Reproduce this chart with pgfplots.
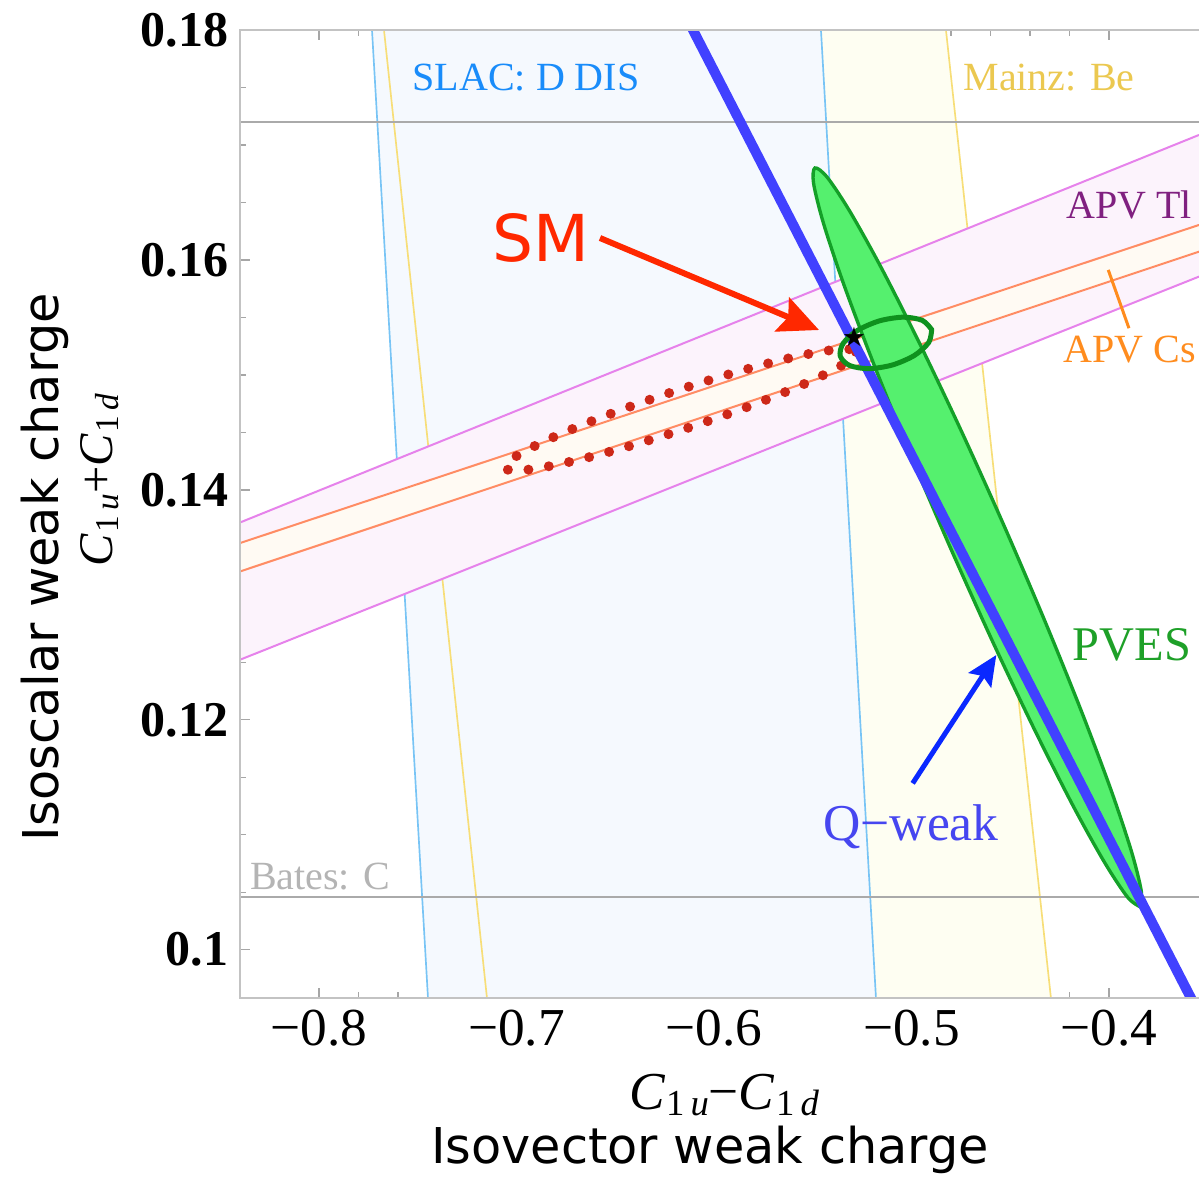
\documentclass[border=0pt]{standalone}
\usepackage{fontspec}
\setmainfont{Liberation Serif}
\newfontfamily\comic{DejaVu Sans}
\usepackage{pgfplots}
\pgfplotsset{compat=1.18}
\usetikzlibrary{arrows.meta}
\definecolor{slacfill}{RGB}{245,249,254}
\definecolor{slacline}{RGB}{120,196,245}
\definecolor{slactext}{RGB}{25,140,250}
\definecolor{mainzfill}{RGB}{254,254,242}
\definecolor{mainzline}{RGB}{247,222,120}
\definecolor{mainztext}{RGB}{235,200,80}
\definecolor{tlfill}{RGB}{252,243,252}
\definecolor{tlline}{RGB}{230,130,235}
\definecolor{tltext}{RGB}{128,32,128}
\definecolor{csfill}{RGB}{255,250,243}
\definecolor{csline}{RGB}{255,140,100}
\definecolor{cstext}{RGB}{255,140,30}
\definecolor{pvesfill}{RGB}{85,240,110}
\definecolor{pvesline}{RGB}{20,160,40}
\definecolor{smallell}{RGB}{15,145,30}
\definecolor{pvestext}{RGB}{30,160,40}
\definecolor{qweak}{RGB}{65,65,255}
\definecolor{qtext}{RGB}{70,70,240}
\definecolor{qarrow}{RGB}{10,40,255}
\definecolor{reddot}{RGB}{205,40,25}
\definecolor{smred}{RGB}{255,40,0}
\definecolor{batesline}{RGB}{170,170,170}
\definecolor{batestext}{RGB}{180,180,180}
\definecolor{framegray}{RGB}{195,195,195}
\newcommand{\Csub}[2]{\textit{C}\kern0.3pt{\fontsize{#2}{#2}\selectfont\raisebox{-0.4ex}{1\,\textit{#1}}}}
\begin{document}
\begin{tikzpicture}
\path[use as bounding box] (-72pt,-54.9pt) rectangle (287.7pt,299.4pt);
\begin{axis}[at={(0,0)}, anchor=south west, scale only axis,
  width=287.7pt, height=290.4pt,
  xmin=-0.84, xmax=-0.3544, ymin=0.0958, ymax=0.18,
  axis line style={draw=none},
  tick align=inside,
  xtick={-0.8,-0.7,-0.6,-0.5,-0.4},
  xticklabels={−0.8,−0.7,−0.6,−0.5,−0.4},
  ytick={0.1,0.12,0.14,0.16,0.18},
  yticklabels={0.1,0.12,0.14,0.16,0.18},
  minor x tick num=4, minor y tick num=3,
  ytick pos=left, xtick pos=both,
  major tick length=3pt, minor tick length=1.8pt,
  tick style={color=gray!70, line width=0.4pt},
  xticklabel style={font=\fontsize{16}{16}\selectfont},
  yticklabel style={font=\fontsize{15}{15}\selectfont\bfseries},
]
% Mainz band
\addplot[fill=mainzfill, draw=none] coordinates {(-0.76709,0.18) (-0.48253,0.18) (-0.42937,0.0958) (-0.71494,0.0958)} -- cycle;
% SLAC band
\addplot[fill=slacfill, draw=none] coordinates {(-0.77316,0.18) (-0.54582,0.18) (-0.51797,0.0958) (-0.74481,0.0958)} -- cycle;
\addplot[mainzline, line width=0.5pt] coordinates {(-0.76709,0.18) (-0.71494,0.0958)};
\addplot[mainzline, line width=0.5pt] coordinates {(-0.48253,0.18) (-0.42937,0.0958)};
\addplot[slacline, line width=0.5pt] coordinates {(-0.77316,0.18) (-0.74481,0.0958)};
\addplot[slacline, line width=0.5pt] coordinates {(-0.54582,0.18) (-0.51797,0.0958)};
% Bates lines
\addplot[batesline, line width=0.45pt] coordinates {(-0.84,0.1720) (-0.3544,0.1720)};
\addplot[batesline, line width=0.45pt] coordinates {(-0.84,0.1046) (-0.3544,0.1046)};
% APV Tl band
\addplot[fill=tlfill, draw=none] coordinates {(-0.84,0.13716) (-0.3544,0.17087) (-0.3544,0.15855) (-0.84,0.12522)} -- cycle;
% APV Cs band
\addplot[fill=csfill, draw=none] coordinates {(-0.84,0.13537) (-0.3544,0.16304) (-0.3544,0.16072) (-0.84,0.13290)} -- cycle;
\addplot[tlline, line width=0.6pt] coordinates {(-0.84,0.13716) (-0.3544,0.17087)};
\addplot[tlline, line width=0.6pt] coordinates {(-0.84,0.12522) (-0.3544,0.15855)};
\addplot[csline, line width=0.6pt] coordinates {(-0.84,0.13537) (-0.3544,0.16304)};
\addplot[csline, line width=0.6pt] coordinates {(-0.84,0.13290) (-0.3544,0.16072)};
% red dotted ellipse (combined)
\addplot[reddot, smooth, line width=3pt, line cap=round, dash pattern=on 0pt off 6.2pt] coordinates {
(-0.52810,0.15200) (-0.53033,0.15142) (-0.53846,0.15052) (-0.55194,0.14939)
(-0.56985,0.14809) (-0.59097,0.14671) (-0.61386,0.14535) (-0.63697,0.14410)
(-0.65871,0.14304) (-0.67761,0.14226) (-0.69237,0.14179) (-0.70199,0.14167)
(-0.70582,0.14192) (-0.70360,0.14251) (-0.69547,0.14340) (-0.68199,0.14453)
(-0.66407,0.14583) (-0.64295,0.14721) (-0.62006,0.14857) (-0.59695,0.14982)
(-0.57521,0.15088) (-0.55631,0.15167) (-0.54155,0.15213) (-0.53193,0.15225)
(-0.52810,0.15200)};
% PVES ellipse
\addplot[smooth, fill=pvesfill, draw=pvesline, line width=1pt] coordinates {
(-0.38430,0.10374) (-0.38362,0.10510) (-0.38860,0.10855) (-0.39890,0.11387)
(-0.41380,0.12068) (-0.43230,0.12853) (-0.45314,0.13689) (-0.47489,0.14517)
(-0.49608,0.15281) (-0.51526,0.15931) (-0.53112,0.16420) (-0.54258,0.16717)
(-0.54886,0.16800) (-0.54954,0.16664) (-0.54456,0.16319) (-0.53427,0.15787)
(-0.51936,0.15106) (-0.50086,0.14321) (-0.48002,0.13486) (-0.45827,0.12657)
(-0.43708,0.11893) (-0.41790,0.11243) (-0.40204,0.10754) (-0.39058,0.10457)
(-0.38430,0.10374)} -- cycle;
% Q-weak line
\addplot[qweak, line width=3pt] coordinates {(-0.64058,0.19) (-0.34111,0.09)};
% APV Cs tick
\addplot[cstext, line width=0.9pt] coordinates {(-0.40035,0.15913) (-0.38987,0.15406)};
% small green ellipse (combined fit)
\addplot[smooth, draw=smallell, line width=1.5pt] coordinates {
(-0.48977,0.15394) (-0.49124,0.15282) (-0.49852,0.15169) (-0.50966,0.15086)
(-0.52167,0.15054) (-0.53133,0.15082) (-0.53605,0.15163) (-0.53458,0.15274)
(-0.52730,0.15387) (-0.51616,0.15470) (-0.50415,0.15502) (-0.49449,0.15474)
(-0.48977,0.15394)} -- cycle;
% SM point
\addplot[only marks, mark=text, text mark={\comic\fontsize{8}{8}\selectfont ★}, mark options={black}] coordinates {(-0.5291,0.15326)};
\end{axis}
% frame
\draw[framegray, line width=0.6pt] (287.7pt,0) -- (0,0) -- (0,290.4pt) -- (287.7pt,290.4pt);
% band labels
\node[text=slactext, font=\fontsize{12}{12}\selectfont] at (85.8pt,276pt) {SLAC: D DIS};
\node[text=mainztext, font=\fontsize{12}{12}\selectfont] at (242.7pt,276pt) {Mainz: Be};
\node[text=tltext, font=\fontsize{12}{12}\selectfont] at (266.7pt,237.9pt) {APV Tl};
\node[text=cstext, font=\fontsize{12}{12}\selectfont] at (267pt,194.4pt) {APV Cs};
\node[text=pvestext, font=\fontsize{14.5}{14.5}\selectfont] at (267.6pt,105.9pt) {PVES};
\node[text=qtext, font=\fontsize{15.5}{15.5}\selectfont] at (201.3pt,51.3pt) {Q−weak};
\node[text=batestext, font=\fontsize{12}{12}\selectfont] at (24pt,36.3pt) {Bates: C};
% SM annotation
\node[text=smred, font=\comic\fontsize{19.4}{19.4}\selectfont] at (90.3pt,228pt) {SM};
\draw[smred, line width=1.8pt, -{Stealth[length=12pt,width=11pt,inset=2pt]}] (108pt,228pt) -- (173.7pt,200.4pt);
\draw[qarrow, line width=1.5pt, -{Stealth[length=9pt,width=8pt,inset=1.5pt]}] (201.8pt,64.4pt) -- (226.9pt,102.9pt);
% axis labels
\node[font=\fontsize{16}{16}\selectfont] at (145.2pt,-29.1pt) {\Csub{u}{11}−\Csub{d}{11}};
\node[font=\comic\fontsize{14.8}{14.8}\selectfont] at (141pt,-45.6pt) {Isovector weak charge};
\node[rotate=90, font=\fontsize{14.5}{14.5}\selectfont] at (-42pt,155.4pt) {\Csub{u}{10}+\Csub{d}{10}};
\node[rotate=90, font=\comic\fontsize{14.8}{14.8}\selectfont] at (-58.5pt,129.3pt) {Isoscalar weak charge};
\end{tikzpicture}
\end{document}
